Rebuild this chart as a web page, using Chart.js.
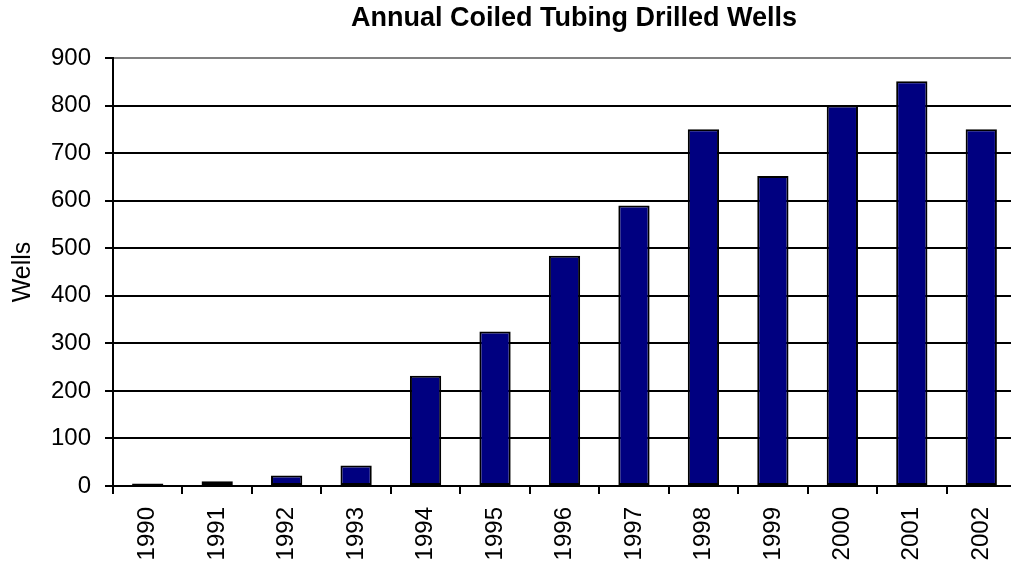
<!DOCTYPE html>
<html><head><meta charset="utf-8">
<script src="https://cdn.jsdelivr.net/npm/chart.js@4/dist/chart.umd.min.js"></script>
<style>html,body{margin:0;padding:0;overflow:hidden;background:#fff}</style>
</head><body>
<canvas id="c" width="1148" height="564" style="display:block"></canvas>
<script>
const years = ['1990','1991','1992','1993','1994','1995','1996','1997','1998','1999','2000','2001','2002'];
const wells = [5, 10, 22, 43, 232, 325, 484, 590, 750, 652, 800, 851, 750];
const yTickValues = [0, 100, 200, 300, 400, 500, 600, 700, 800, 900];
const chartTitle = 'Annual Coiled Tubing Drilled Wells';
const yAxisTitle = 'Wells';

const FONT = '"Liberation Sans", Arial, sans-serif';
Chart.defaults.font.family = FONT;
Chart.defaults.color = '#000';

new Chart(document.getElementById('c'), {
  type: 'bar',
  data: {
    labels: years,
    datasets: [{
      data: wells,
      backgroundColor: '#000080',
      borderColor: '#000000',
      borderWidth: 2,
      borderSkipped: false,
      inflateAmount: 0,
      categoryPercentage: 1,
      barPercentage: 0.45
    }]
  },
  options: {
    responsive: false,
    animation: false,
    devicePixelRatio: 1,
    layout: { padding: 0 },
    plugins: {
      legend: { display: false },
      tooltip: { enabled: false },
      title: {
        display: true,
        text: chartTitle,
        font: { size: 27, weight: 'bold', family: FONT },
        color: '#000',
        padding: { top: 2, bottom: 23.6 }
      }
    },
    scales: {
      x: {
        offset: true,
        grid: { display: true, drawOnChartArea: false, color: '#000', lineWidth: 2, tickLength: 8, offset: true },
        border: { color: '#000', width: 2 },
        ticks: { minRotation: 90, maxRotation: 90, autoSkip: false, padding: 13, font: { size: 24 }, color: '#000' },
        afterFit: s => { s.height = 78; }
      },
      y: {
        min: 0, max: 900,
        afterBuildTicks: s => { s.ticks = yTickValues.map(v => ({ value: v })); },
        grid: {
          color: c => (c.tick && c.tick.value === 900) ? '#808080' : '#000',
          tickColor: '#000',
          lineWidth: 2,
          tickLength: 8
        },
        border: { color: '#000', width: 2 },
        ticks: { padding: 14, font: { size: 24 }, color: '#000' },
        title: { display: true, text: yAxisTitle, font: { size: 25 }, color: '#000', padding: { top: 8, bottom: 0 } },
        afterFit: s => { s.width = 113; }
      },
      yR: {
        position: 'right',
        display: true,
        grid: { display: false },
        border: { display: false },
        ticks: { display: false },
        afterFit: s => { s.width = 132; }
      }
    }
  }
});
</script>
</body></html>
